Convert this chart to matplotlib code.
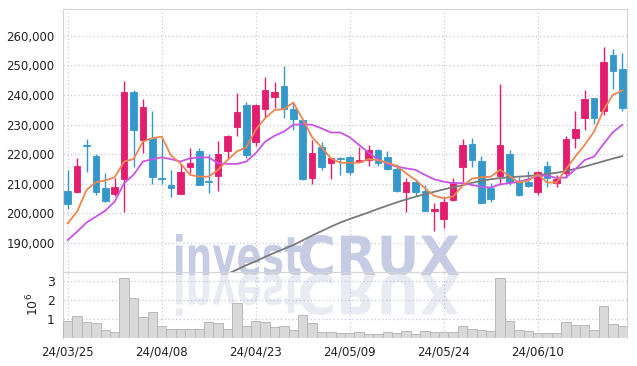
import numpy as np
import matplotlib
matplotlib.use('Agg')
import matplotlib.pyplot as plt
from matplotlib.textpath import TextPath
from matplotlib.patches import PathPatch
from matplotlib.font_manager import FontProperties
from matplotlib.transforms import Affine2D

# Daily prices (60 trading days)
opens = [207600, 207200, 223100, 219400, 208600, 206700, 211500, 241000, 224800, 225600,
         212000, 209600, 206700, 215800, 221200, 210900, 212500, 221200, 229300, 236600,
         224000, 235200, 239400, 243000, 235200, 231600, 211900, 222300, 216900, 218700,
         218900, 217500, 218000, 221400, 218900, 214900, 207300, 210500, 207700, 200900,
         198200, 204400, 215600, 223400, 217700, 208700, 212600, 220100, 210700, 210600,
         207200, 216000, 210400, 213500, 225400, 232100, 239000, 234500, 253500, 248800]
highs = [214700, 218800, 225000, 220000, 213500, 211900, 244800, 241700, 238500, 234400,
         225400, 214700, 216600, 222000, 222200, 220100, 224500, 226400, 240600, 237500,
         236800, 246000, 244500, 249800, 237200, 231600, 224800, 224000, 218800, 218900,
         219200, 222300, 223100, 221600, 221100, 216700, 211900, 211600, 209600, 203400,
         205400, 211900, 225000, 225400, 219200, 210400, 243700, 221400, 212400, 214400,
         214400, 217700, 212900, 226200, 234500, 241700, 239000, 256300, 255400, 254100]
lows = [201400, 206800, 213800, 206200, 204000, 205900, 200400, 215800, 220300, 209800,
        209800, 205400, 206400, 213500, 209500, 206800, 207600, 218600, 226200, 218800,
        222900, 232700, 235500, 232300, 228200, 211300, 209900, 214700, 211600, 213000,
        213000, 217400, 216000, 216000, 214700, 207300, 200600, 205900, 200900, 194100,
        195200, 204200, 210700, 215600, 203400, 203900, 209600, 209500, 205900, 208800,
        206100, 208800, 208800, 211900, 222000, 228200, 230200, 233200, 241900, 234400]
closes = [203200, 216000, 222800, 207200, 204300, 208900, 241000, 228000, 235900, 212400,
          211700, 208700, 214000, 216900, 209700, 210600, 220000, 226200, 234300, 219700,
          236600, 241700, 241000, 235200, 231900, 211500, 220300, 215500, 218600, 218500,
          213800, 218000, 221400, 216900, 214900, 207700, 210500, 207300, 200900, 201400,
          203900, 210700, 223100, 218000, 203600, 204800, 223100, 210600, 206300, 209300,
          214000, 211900, 211700, 225100, 228500, 238500, 232300, 251100, 247900, 235700]

# Volume in millions
volumes = [0.875, 1.125, 0.82, 0.77, 0.39, 0.29, 3.16, 2.09, 1.07, 1.34,
           0.64, 0.48, 0.48, 0.43, 0.43, 0.82, 0.77, 0.43, 1.82, 0.64,
           0.875, 0.82, 0.54, 0.64, 0.375, 1.2, 0.77, 0.29, 0.29, 0.23,
           0.23, 0.29, 0.18, 0.18, 0.29, 0.23, 0.34, 0.18, 0.34, 0.29,
           0.29, 0.29, 0.59, 0.45, 0.39, 0.34, 3.16, 0.875, 0.39, 0.34,
           0.23, 0.23, 0.23, 0.82, 0.66, 0.66, 0.39, 1.68, 0.71, 0.61]

# Moving averages as shown on the chart
ma5 = [196600, 200600, 207900, 210500, 211100, 212200, 217500, 218300, 224200, 225400,
       225900, 219500, 216900, 213000, 212400, 212400, 214700, 218000, 220900, 222300,
       228200, 232100, 234900, 235200, 237400, 231800, 225700, 222300, 218600, 217100,
       217100, 217100, 218300, 218000, 217100, 216000, 213500, 211300, 208500, 205900,
       205100, 205700, 209300, 211700, 212200, 212400, 214700, 212600, 210400, 211100,
       213200, 210400, 210400, 214900, 219200, 223100, 227600, 234900, 240000, 241500]
ma20 = [191000, 193800, 196900, 198900, 200900, 204000, 210200, 213000, 217500, 218300,
        218900, 218300, 217500, 218600, 218900, 218900, 216900, 216700, 216700, 217500,
        220300, 224200, 226200, 227600, 229900, 230100, 229900, 228700, 227300, 227300,
        225700, 223100, 220500, 218300, 216700, 215800, 215200, 214700, 213000, 211500,
        210700, 210200, 210200, 209600, 209000, 208700, 209800, 210200, 210700, 211500,
        212600, 212800, 211900, 212100, 214900, 218000, 219200, 223400, 227400, 229900]
ma60 = [np.nan] * 17 + [
        179500, 181000, 182500, 183800, 185300, 186700, 188000, 189300, 190900, 192500,
        194000, 195500, 196900, 198100, 199200, 200300, 201500, 202600, 203700, 204700,
        205600, 206500, 207300, 208100, 208800, 209500, 210300, 211000, 211500, 211900,
        212200, 212400, 212600, 212900, 213300, 213700, 214300, 215000, 215800, 216700,
        217600, 218500, 219300]

tick_labels = ['24/03/25', '24/04/08', '24/04/23', '24/05/09', '24/05/24', '24/06/10']
price_ticks = [190000, 200000, 210000, 220000, 230000, 240000, 250000, 260000]

UP = '#e31e6e'
DOWN = '#3598cb'
GRID = '#c5c8dc'
SPINE = '#d4d4d4'
W, H = 637, 366


def main():
    fig = plt.figure(figsize=(W / 100, H / 100), dpi=100)
    fig.patch.set_facecolor('white')

    ax = fig.add_axes([63 / W, 1 - 272 / H, 564 / W, 263 / H])
    axv = fig.add_axes([63 / W, 1 - 337.5 / H, 564 / W, 65.5 / H], sharex=ax)
    for a in (ax, axv):
        a.set_facecolor('none')
        for s in a.spines.values():
            s.set_color(SPINE)
        a.tick_params(length=0, labelsize=8.5, colors='#222222')
        a.grid(True, linestyle=(0, (1, 2)), color=GRID, linewidth=0.9)
        a.set_axisbelow(True)

    # Watermark with reflection
    bold = FontProperties(family='DejaVu Sans', weight='bold')
    parts = [('invest', 176, 125, '#c6cce4'), ('CRUX', 300, 159, '#c6cce4')]
    base = H - 275
    for word, x0, width, col in parts:
        tp = TextPath((0, 0), word, size=1, prop=bold)
        ext = tp.get_extents()
        sx = width / ext.width
        sy = 54
        t = Affine2D().translate(-ext.x0, 0).scale(sx / W, sy / H).translate(x0 / W, base / H)
        fig.add_artist(PathPatch(tp, facecolor=col, edgecolor='none',
                                 transform=t + fig.transFigure, zorder=-2))
        tr = Affine2D().translate(-ext.x0, 0).scale(sx / W, -sy / H).translate(x0 / W, base / H)
        fig.add_artist(PathPatch(tp, facecolor='#e9ebf3', edgecolor='none',
                                 transform=tr + fig.transFigure, zorder=-2))

    x = np.arange(1, len(opens) + 1)
    o = np.array(opens)
    c = np.array(closes)
    colors = [UP if cc >= oo else DOWN for oo, cc in zip(o, c)]

    # Wicks and bodies
    ax.vlines(x, lows, highs, colors=colors, linewidth=1.0, zorder=3)
    bottoms = np.minimum(o, c)
    heights = np.maximum(np.abs(c - o), 350)
    ax.bar(x, heights, bottom=bottoms, width=0.72, color=colors,
           edgecolor=colors, linewidth=0.6, zorder=4)

    # Moving averages
    ax.plot(x, ma60, color='#7a7a7a', linewidth=1.3, zorder=5)
    ax.plot(x, ma20, color='#c955e8', linewidth=1.3, zorder=5)
    ax.plot(x, ma5, color='#ee8650', linewidth=1.3, zorder=5)

    ax.set_xlim(0.5, len(opens) + 0.5)
    ax.set_ylim(180200, 269000)
    ax.set_yticks(price_ticks)
    ax.set_yticklabels(['{:,}'.format(p) for p in price_ticks])
    ax.tick_params(axis='x', labelbottom=False)
    ax.tick_params(axis='y', pad=6)

    # Volume panel
    axv.bar(x, volumes, width=1.0, color='#d9d9d9', edgecolor='#b8b8b8',
            linewidth=0.7, zorder=3)
    axv.set_ylim(0, 3.5)
    axv.set_yticks([1, 2, 3])
    axv.set_yticklabels(['1', '2', '3'], fontsize=9)
    axv.set_ylabel(r'$10^{6}$', fontsize=9, color='#222222', labelpad=4)
    axv.set_xticks(x[::10])
    axv.set_xticklabels(tick_labels)
    axv.tick_params(axis='x', pad=6)
    axv.tick_params(axis='y', pad=6)
    axv.spines['bottom'].set_visible(False)

    fig.savefig('out.png', dpi=100, facecolor='white')


if __name__ == '__main__':
    main()
